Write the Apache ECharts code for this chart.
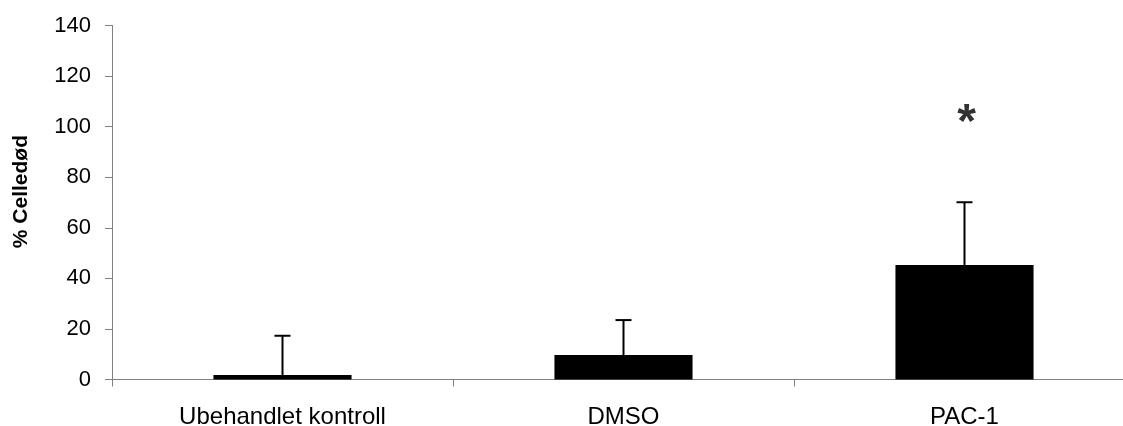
<!DOCTYPE html>
<html><head><meta charset="utf-8">
<script src="https://cdn.jsdelivr.net/npm/echarts@6/dist/echarts.min.js"></script>
<style>html,body{margin:0;padding:0;background:#fff}#c{width:1123px;height:426px}</style>
</head><body><div id="c"></div>
<script>
var categories = ['Ubehandlet kontroll', 'DMSO', 'PAC-1'];
var means = [1.8, 9.7, 45.3];
var errors = [15.5, 13.8, 24.8];
var significance = ['', '', '*'];
var sigLevel = [null, null, 105];
var yTicks = {min: 0, max: 140, interval: 20};
var yTitle = '% Celledød';

var chart = echarts.init(document.getElementById('c'));
var F = '"Liberation Sans", Arial, sans-serif';
chart.setOption({
  animation: false,
  grid: {left: 112, top: 25.5, bottom: 46.5, right: -12, outerBoundsMode: 'none', containLabel: false},
  graphic: [{
    type: 'text', left: 11, top: 135, rotation: Math.PI / 2, silent: true,
    style: {text: yTitle, font: 'bold 21px ' + F, fill: '#000'}
  }],
  xAxis: {
    type: 'category', data: categories,
    axisLine: {lineStyle: {color: '#808080', width: 1}},
    axisTick: {show: true, length: 7, alignWithLabel: false, lineStyle: {color: '#808080'}},
    axisLabel: {color: '#000', fontFamily: F, fontSize: 24, margin: 26},
    splitLine: {show: false}
  },
  yAxis: {
    type: 'value', min: yTicks.min, max: yTicks.max, interval: yTicks.interval,
    axisLine: {show: true, lineStyle: {color: '#808080', width: 1}},
    axisTick: {show: true, length: 7, lineStyle: {color: '#808080'}},
    axisLabel: {color: '#000', fontFamily: F, fontSize: 22, margin: 21},
    splitLine: {show: false}
  },
  series: [
    {type: 'bar', data: means, barWidth: '40.5%', itemStyle: {color: '#000'}, silent: true},
    {type: 'custom', silent: true, z: 3,
     data: means.map(function (m, i) { return [i, m, m + errors[i]]; }),
     renderItem: function (params, api) {
       var x = api.coord([api.value(0), api.value(1)]);
       var top = api.coord([api.value(0), api.value(2)]);
       var style = {stroke: '#000', lineWidth: 2};
       return {type: 'group', children: [
         {type: 'line', shape: {x1: x[0], y1: x[1], x2: x[0], y2: top[1]}, style: style},
         {type: 'line', shape: {x1: x[0] - 8, y1: top[1], x2: x[0] + 8, y2: top[1]}, style: style}
       ]};
     }
    },
    {type: 'scatter', silent: true, symbolSize: 0,
     data: sigLevel.map(function (v, i) { return v == null ? null : [i, v]; }),
     label: {show: true, position: 'inside', formatter: function (p) { return significance[p.dataIndex]; },
       fontFamily: F, fontSize: 48, fontWeight: 'bold', color: '#000', offset: [2, 10]}
    }
  ]
});
</script></body></html>
